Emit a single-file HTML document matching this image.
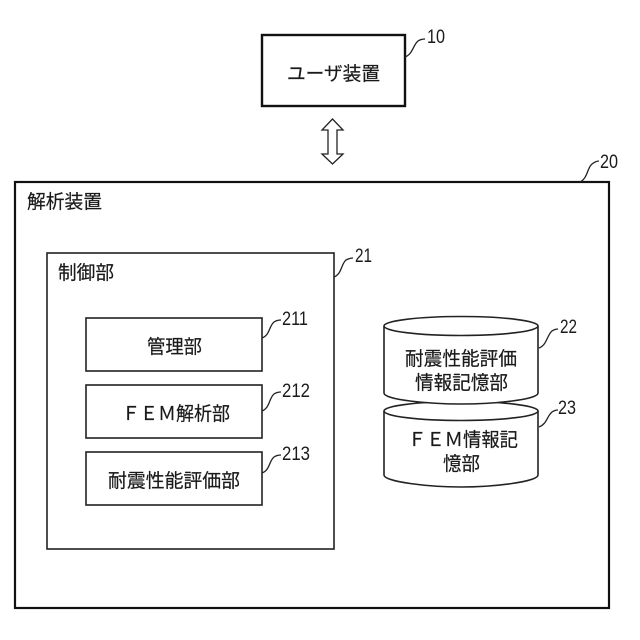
<!DOCTYPE html>
<html><head><meta charset="utf-8"><style>
html,body{margin:0;padding:0;background:#fff;width:640px;height:640px;overflow:hidden}
svg{display:block}
text{font-family:"Liberation Sans","Noto Sans CJK JP",sans-serif;fill:#1a1a1a}
.j{font-size:19px;stroke:#1a1a1a;stroke-width:.2}
.n{font-size:19.5px}
.l{fill:none;stroke:#222;stroke-width:1.3}
</style></head><body>
<svg width="640" height="640" viewBox="0 0 640 640">
<rect x="262" y="35" width="143" height="71" fill="#fff" stroke="#111" stroke-width="2.4"/>
<text class="j" x="287" y="80" textLength="93" lengthAdjust="spacingAndGlyphs">ユーザ装置</text>
<path class="l" d="M405 57C413 54 413 45 418 41Q421 39 425 39"/>
<text class="n" x="427" y="43" textLength="18" lengthAdjust="spacingAndGlyphs">10</text>
<path d="M332.500 119L343 130H337V154H343L332.500 164L322 154H328V130H322Z" fill="#fff" stroke="#222" stroke-width="1.3"/>
<rect x="15" y="182" width="594" height="426" fill="none" stroke="#111" stroke-width="2.2"/>
<text class="j" x="27" y="208" textLength="75" lengthAdjust="spacingAndGlyphs">解析装置</text>
<path class="l" d="M580 182C588 178 587 168 592 164Q596 161 599 161"/>
<text class="n" x="600" y="168" textLength="18" lengthAdjust="spacingAndGlyphs">20</text>
<rect x="47" y="253" width="287" height="296" fill="none" stroke="#222" stroke-width="1.6"/>
<text class="j" x="58" y="279" textLength="56" lengthAdjust="spacingAndGlyphs">制御部</text>
<path class="l" d="M334 277C342 274 341 264 346 260Q350 258 353 258"/>
<text class="n" x="355" y="262" textLength="17" lengthAdjust="spacingAndGlyphs">21</text>
<rect x="86" y="318" width="176" height="53" fill="none" stroke="#222" stroke-width="1.6"/>
<text class="j" x="147" y="353" textLength="55" lengthAdjust="spacingAndGlyphs">管理部</text>
<path class="l" d="M262 338C270 335 269 326 274 322Q277 320 281 320"/>
<text class="n" x="282" y="325" textLength="26" lengthAdjust="spacingAndGlyphs">211</text>
<rect x="86" y="385" width="176" height="53" fill="none" stroke="#222" stroke-width="1.6"/>
<text class="j" x="122" y="420" textLength="108" lengthAdjust="spacingAndGlyphs">ＦＥＭ解析部</text>
<path class="l" d="M262 411C270 408 269 398 274 394Q277 392 281 392"/>
<text class="n" x="282" y="397" textLength="28" lengthAdjust="spacingAndGlyphs">212</text>
<rect x="86" y="452" width="176" height="53" fill="none" stroke="#222" stroke-width="1.6"/>
<text class="j" x="108" y="487" textLength="132" lengthAdjust="spacingAndGlyphs">耐震性能評価部</text>
<path class="l" d="M262 473C270 470 269 461 274 457Q277 455 281 455"/>
<text class="n" x="282" y="460" textLength="28" lengthAdjust="spacingAndGlyphs">213</text>
<path d="M384 411V475C384 482 430 487 461 487C492 487 538 482 538 475V411" fill="#fff" stroke="#222" stroke-width="1.6"/>
<ellipse cx="461" cy="411" rx="77" ry="9.500" fill="#fff" stroke="#222" stroke-width="1.6"/>
<path d="M384 326V393C384 400 430 404 461 404C492 404 538 400 538 393V326" fill="#fff" stroke="#222" stroke-width="1.6"/>
<ellipse cx="461" cy="326" rx="77" ry="9.500" fill="#fff" stroke="#222" stroke-width="1.6"/>
<text class="j" x="405" y="365" textLength="112" lengthAdjust="spacingAndGlyphs">耐震性能評価</text>
<text class="j" x="415" y="389" textLength="93" lengthAdjust="spacingAndGlyphs">情報記憶部</text>
<text class="j" x="408" y="446" textLength="110" lengthAdjust="spacingAndGlyphs">ＦＥＭ情報記</text>
<text class="j" x="443" y="470" textLength="37" lengthAdjust="spacingAndGlyphs">憶部</text>
<path class="l" d="M539 348C547 345 547 335 552 331Q555 329 558 329"/>
<text class="n" x="560" y="333" textLength="17" lengthAdjust="spacingAndGlyphs">22</text>
<path class="l" d="M539 427C547 424 547 416 552 412Q555 410 558 410"/>
<text class="n" x="558" y="414" textLength="18" lengthAdjust="spacingAndGlyphs">23</text>
</svg>
</body></html>
